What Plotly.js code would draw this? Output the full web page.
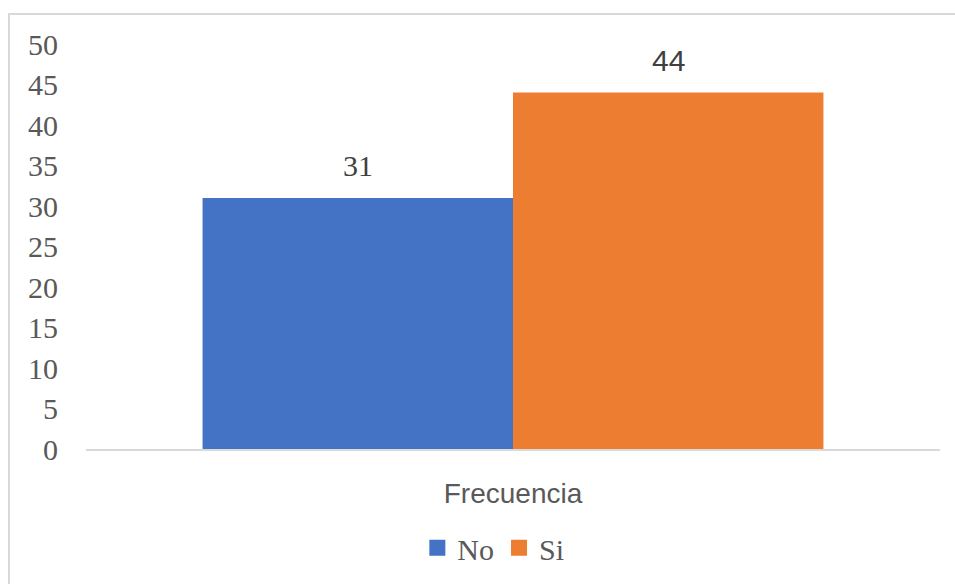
<!DOCTYPE html>
<html>
<head>
<meta charset="utf-8">
<script src="https://cdn.plot.ly/plotly-3.0.1.min.js"></script>
<style>
  html, body { margin: 0; padding: 0; background: #ffffff; }
  #frame {
    position: absolute; left: 8px; top: 13px; width: 960px; height: 600px;
    border-left: 2px solid #d9d9d9; border-top: 2px solid #d9d9d9;
  }
  #chart { position: absolute; left: 0; top: 0; width: 955px; height: 584px; }
</style>
</head>
<body>
<div id="frame"></div>
<div id="chart"></div>
<script>
// Response counts for the single "Frecuencia" category
const categories = ["Frecuencia"];
const seriesNames = ["No", "Si"];
const seriesValues = [[31], [44]];
const seriesColors = ["#4472C4", "#ED7D31"];
const labelFonts = ["Liberation Serif", "Liberation Sans"];
const yTicks = [0, 5, 10, 15, 20, 25, 30, 35, 40, 45, 50];

const W = 955, H = 584;
const margin = { l: 86, r: 15, t: 44, b: 134 };
const bargap = 0.273;
const plotW = W - margin.l - margin.r;
const barPx = plotW * (1 - bargap) / seriesNames.length;

const traces = [];
const annotations = [];
seriesNames.forEach((name, i) => {
  traces.push({
    type: "bar",
    name: name,
    x: categories,
    y: seriesValues[i],
    marker: { color: seriesColors[i] },
    showlegend: false,
    hoverinfo: "skip"
  });
  // legend swatch entry
  traces.push({
    type: "scatter",
    mode: "markers",
    name: name,
    x: [null],
    y: [null],
    marker: { symbol: "square", size: 16, color: seriesColors[i] },
    showlegend: true
  });
  categories.forEach((c, j) => {
    annotations.push({
      x: c, y: seriesValues[i][j], xref: "x", yref: "y",
      text: String(seriesValues[i][j]),
      showarrow: false, yanchor: "bottom",
      xshift: (i - (seriesNames.length - 1) / 2) * barPx,
      yshift: 14,
      font: { family: labelFonts[i], size: 30, color: "#404040" }
    });
  });
});

const layout = {
  width: W, height: H,
  margin: margin,
  paper_bgcolor: "rgba(0,0,0,0)",
  plot_bgcolor: "rgba(0,0,0,0)",
  barmode: "group",
  bargap: bargap,
  bargroupgap: 0,
  showlegend: true,
  legend: {
    orientation: "h", x: 0.477, xanchor: "center", y: -0.241, yanchor: "middle",
    font: { family: "Liberation Serif", size: 30, color: "#595959" },
    itemclick: false, itemdoubleclick: false
  },
  xaxis: {
    type: "category",
    range: [-0.5, 0.5],
    showline: true, linecolor: "#d9d9d9", linewidth: 2,
    showgrid: false, zeroline: false, ticks: "",
    ticklabelstandoff: 18,
    tickfont: { family: "Liberation Sans", size: 28, color: "#595959" },
    fixedrange: true
  },
  yaxis: {
    range: [0, 50],
    tickvals: yTicks,
    ticktext: yTicks.map(String),
    showline: false, showgrid: false, zeroline: false, ticks: "",
    ticklabelstandoff: 27,
    tickfont: { family: "Liberation Serif", size: 30, color: "#595959" },
    fixedrange: true
  },
  annotations: annotations
};

Plotly.newPlot("chart", traces, layout, { displayModeBar: false, staticPlot: true });
</script>
</body>
</html>
